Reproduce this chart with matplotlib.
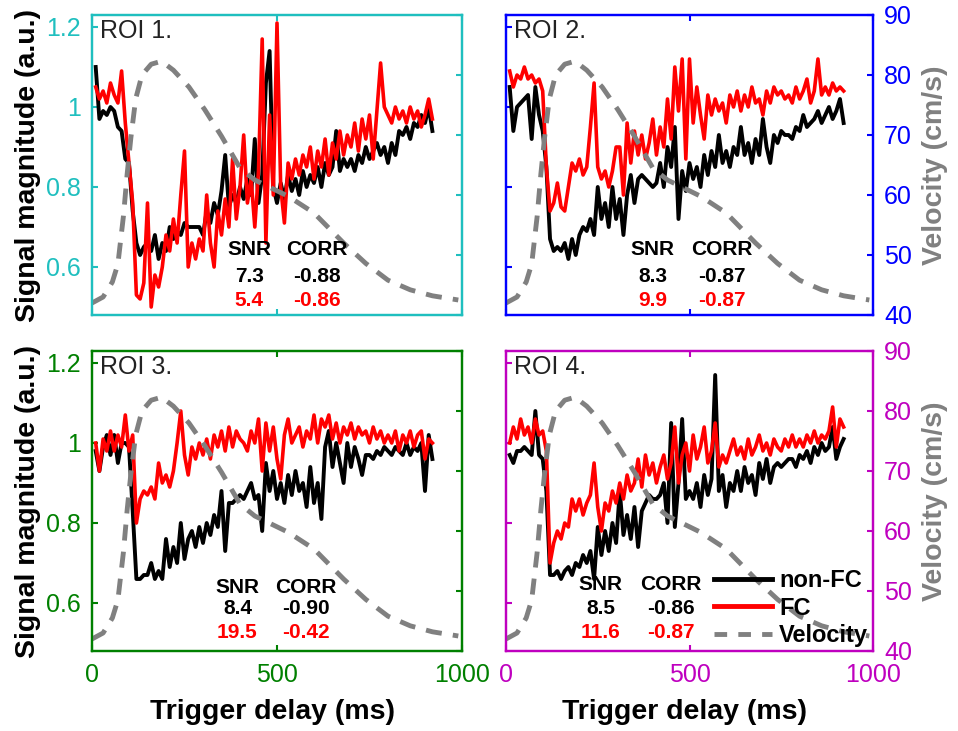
import numpy as np
import matplotlib
matplotlib.use('Agg')
import matplotlib.pyplot as plt
from matplotlib.lines import Line2D

plt.rcParams['font.family'] = ['Liberation Sans', 'DejaVu Sans']

# trigger delay grid (ms)
delay = np.arange(10, 930, 10)

# velocity curve (cm/s)
vel_t = [0, 30, 55, 70, 85, 95, 105, 118, 135, 160, 188, 220, 262, 305, 350,
         400, 440, 480, 530, 600, 680, 740, 800, 860, 920, 990]
vel_v = [42.0, 43.0, 45.5, 48.5, 56.5, 63.5, 69.5, 76.0, 80.0, 81.8, 82.3, 80.8, 78.0, 74.2, 69.8,
         64.5, 62.5, 61.3, 59.8, 57.0, 52.0, 48.6, 45.8, 44.2, 43.2, 42.5]

roi1_nonfc = [1.10, 0.97, 0.99, 0.98, 1.00, 0.99, 0.95, 0.94, 0.87, 0.86,
              0.74, 0.66, 0.63, 0.65, 0.66, 0.64, 0.68, 0.62, 0.66, 0.64,
              0.70, 0.67, 0.69, 0.68, 0.71, 0.70, 0.70, 0.70, 0.70, 0.68,
              0.74, 0.71, 0.76, 0.73, 0.79, 0.88, 0.75, 0.78, 0.76, 0.80,
              0.77, 0.82, 0.78, 0.92, 0.76, 0.83, 1.06, 1.14, 0.80, 0.76,
              0.81, 0.77, 0.83, 0.79, 0.82, 0.78, 0.84, 0.80, 0.83, 0.81,
              0.85, 0.80, 0.86, 0.83, 0.85, 0.94, 0.84, 0.87, 0.85, 0.87,
              0.84, 0.88, 0.86, 0.90, 0.87, 0.89, 0.91, 0.88, 0.90, 0.86,
              0.91, 0.88, 0.94, 0.93, 0.95, 0.92, 0.96, 0.95, 0.98, 0.96,
              1.00, 0.94]
roi1_fc = [1.05, 1.02, 1.04, 1.01, 1.06, 1.03, 1.01, 1.09, 0.96, 0.86,
           0.76, 0.53, 0.52, 0.56, 0.76, 0.50, 0.58, 0.55, 0.60, 0.68,
           0.64, 0.72, 0.66, 0.78, 0.89, 0.60, 0.66, 0.62, 0.67, 0.64,
           0.78, 0.66, 0.60, 0.74, 0.68, 0.77, 0.70, 0.87, 0.72, 0.80,
           0.93, 0.76, 0.82, 0.70, 0.84, 1.17, 0.66, 0.98, 0.78, 1.21,
           0.80, 0.71, 0.86, 0.82, 0.87, 0.83, 0.88, 0.85, 0.90, 0.82,
           0.89, 0.85, 0.92, 0.83, 0.91, 0.87, 0.94, 0.88, 0.93, 0.90,
           0.96, 0.89, 0.97, 0.92, 0.98, 0.87, 0.99, 1.11, 1.00, 0.98,
           0.96, 1.00, 0.97, 0.99, 0.96, 1.00, 0.97, 0.99, 0.95, 0.98,
           1.02, 0.97]

roi2_nonfc = [1.05, 0.94, 1.00, 1.01, 1.02, 1.03, 0.92, 1.05, 0.98, 0.94,
              0.85, 0.67, 0.64, 0.65, 0.64, 0.66, 0.62, 0.67, 0.63, 0.68,
              0.70, 0.69, 0.72, 0.68, 0.80, 0.72, 0.76, 0.70, 0.80, 0.72,
              0.77, 0.68, 0.78, 0.83, 0.76, 0.82, 0.83, 0.82, 0.81, 0.80,
              0.81, 0.86, 0.80, 0.90, 0.85, 0.95, 0.72, 0.84, 0.79, 0.86,
              0.82, 0.85, 0.80, 0.88, 0.83, 0.89, 0.85, 0.93, 0.86, 0.89,
              0.85, 0.90, 0.88, 0.95, 0.88, 0.91, 0.86, 0.92, 0.88, 0.97,
              0.90, 0.86, 0.93, 0.91, 0.94, 0.93, 0.93, 0.92, 0.95, 0.94,
              0.98, 0.95, 0.96, 0.97, 0.99, 0.96, 0.98, 1.00, 0.97, 0.99,
              1.02, 0.96]
roi2_fc = [1.09, 1.05, 1.08, 1.07, 1.10, 1.07, 1.08, 1.06, 1.07, 1.04,
           0.85, 0.74, 0.76, 0.81, 0.75, 0.74, 0.80, 0.86, 0.84, 0.87,
           0.83, 0.85, 0.95, 1.06, 0.85, 0.82, 0.84, 0.80, 0.84, 0.90,
           0.90, 0.78, 0.96, 0.86, 0.94, 0.88, 0.93, 0.87, 0.91, 0.97,
           0.88, 0.95, 0.90, 1.02, 0.92, 1.10, 0.99, 1.12, 0.87, 1.12,
           0.96, 1.05, 0.98, 0.92, 1.03, 0.98, 1.02, 0.99, 1.01, 0.96,
           1.03, 1.00, 1.04, 0.99, 1.03, 1.00, 1.05, 1.01, 1.02, 0.98,
           1.04, 1.01, 1.05, 1.03, 1.04, 1.02, 1.03, 1.01, 1.05, 1.02,
           1.04, 1.07, 1.01, 1.04, 1.12, 1.03, 1.05, 1.03, 1.06, 1.04,
           1.05, 1.04]

roi3_nonfc = [0.98, 0.93, 0.99, 1.02, 0.97, 1.02, 0.95, 1.00, 1.00, 0.99,
              0.83, 0.66, 0.66, 0.67, 0.67, 0.70, 0.66, 0.68, 0.66, 0.76,
              0.69, 0.74, 0.70, 0.80, 0.71, 0.76, 0.78, 0.74, 0.79, 0.75,
              0.80, 0.77, 0.82, 0.79, 0.88, 0.73, 0.85, 0.85, 0.86, 0.87,
              0.86, 0.88, 0.90, 0.86, 0.87, 0.78, 0.95, 0.88, 0.93, 0.86,
              0.90, 0.85, 0.92, 0.87, 0.93, 0.88, 0.90, 0.84, 0.94, 0.85,
              0.90, 0.81, 0.99, 1.03, 0.94, 1.00, 0.95, 0.90, 1.00, 0.94,
              0.99, 0.96, 0.92, 0.97, 0.97, 0.96, 0.98, 0.97, 0.99, 0.98,
              0.97, 0.99, 0.98, 0.97, 1.00, 0.97, 0.99, 0.98, 1.00, 0.88,
              1.02, 0.96]
roi3_fc = [1.00, 0.93, 1.01, 0.98, 1.03, 0.98, 1.02, 0.99, 1.07, 0.98,
           1.02, 0.80, 0.86, 0.88, 0.87, 0.89, 0.86, 0.95, 0.90, 0.92,
           0.89, 0.93, 1.00, 1.08, 0.97, 0.92, 0.99, 0.96, 1.00, 0.97,
           1.01, 0.96, 1.02, 0.99, 1.03, 0.98, 1.04, 0.99, 1.03, 1.01,
           1.00, 0.98, 1.03, 1.00, 1.06, 0.93, 1.05, 0.98, 1.04, 0.96,
           0.91, 1.02, 1.06, 1.00, 1.02, 1.04, 0.99, 1.03, 1.01, 1.07,
           1.00, 1.06, 1.04, 1.07, 1.01, 1.05, 1.00, 1.04, 1.02, 1.05,
           1.01, 1.04, 1.02, 1.03, 1.00, 1.04, 1.01, 1.03, 1.00, 1.02,
           1.00, 1.03, 0.98, 1.02, 1.00, 1.03, 0.99, 1.02, 1.03, 0.96,
           1.01, 1.00]

roi4_nonfc = [0.97, 0.95, 0.98, 0.98, 0.99, 0.98, 0.97, 1.08, 0.97, 0.96,
              0.88, 0.67, 0.67, 0.68, 0.66, 0.68, 0.69, 0.67, 0.70, 0.69,
              0.72, 0.70, 0.73, 0.66, 0.79, 0.72, 0.78, 0.73, 0.80, 0.75,
              0.88, 0.77, 0.82, 0.76, 0.84, 0.74, 0.83, 0.85, 0.87, 0.86,
              0.86, 0.87, 0.90, 0.80, 1.05, 0.79, 0.90, 1.06, 0.86, 0.88,
              0.86, 0.90, 0.84, 0.92, 0.87, 0.91, 1.17, 0.88, 0.92, 0.84,
              0.90, 0.88, 0.93, 0.88, 0.94, 0.90, 0.92, 0.87, 0.95, 0.91,
              0.96, 0.90, 0.94, 0.95, 0.94, 0.95, 0.96, 0.96, 0.94, 0.97,
              0.96, 0.98, 0.95, 0.99, 0.97, 1.00, 0.98, 0.99, 1.04, 0.96,
              0.99, 1.01]
roi4_fc = [1.00, 1.04, 1.01, 1.06, 1.02, 1.04, 1.00, 1.06, 1.02, 1.03,
           0.98, 0.70, 0.75, 0.78, 0.76, 0.80, 0.79, 0.86, 0.83, 0.86,
           0.82, 0.85, 0.87, 0.95, 0.84, 0.78, 0.85, 0.83, 0.88, 0.85,
           0.90, 0.86, 0.92, 0.88, 0.90, 0.96, 0.89, 0.97, 0.92, 0.95,
           0.90, 0.94, 0.97, 0.91, 0.95, 1.04, 0.90, 0.97, 1.00, 0.93,
           1.02, 0.96, 0.99, 1.04, 0.95, 0.98, 1.05, 0.94, 0.97, 0.95,
           0.98, 1.01, 0.97, 0.99, 0.96, 1.01, 0.97, 0.99, 1.02, 0.98,
           1.00, 0.97, 1.01, 0.99, 0.98, 1.01, 0.99, 1.02, 0.99, 1.01,
           0.99, 1.02, 1.00, 1.03, 1.00, 1.02, 1.01, 1.03, 1.09, 0.99,
           1.06, 1.04]

roi_names = ['ROI 1.', 'ROI 2.', 'ROI 3.', 'ROI 4.']
snr_nonfc = ['7.3', '8.3', '8.4', '8.5']
snr_fc = ['5.4', '9.9', '19.5', '11.6']
corr_nonfc = ['-0.88', '-0.87', '-0.90', '-0.86']
corr_fc = ['-0.86', '-0.87', '-0.42', '-0.87']

panel_colors = ['#1fbfbf', '#0000ff', '#008000', '#bf00bf']
gray = '#808080'
vel_dash = (3.3, 2.3)

W, H = 958, 731
fig = plt.figure(figsize=(W / 100, H / 100), dpi=100)

# axes boxes in pixels: left, top, right, bottom
boxes = [(92, 15, 462, 315), (506, 15, 873, 315),
         (92, 351, 462, 651), (506, 351, 873, 651)]
# text anchor (axes fraction) for SNR / CORR columns and rows
snr_x = [0.425, 0.40, 0.393, 0.258]
corr_x = [0.607, 0.588, 0.578, 0.45]
rows_y = [(0.217, 0.127, 0.05), (0.217, 0.127, 0.05),
          (0.213, 0.143, 0.06), (0.22, 0.143, 0.06)]

signals = [(roi1_nonfc, roi1_fc), (roi2_nonfc, roi2_fc),
           (roi3_nonfc, roi3_fc), (roi4_nonfc, roi4_fc)]


def drawPanel(i):
    l, t, r, b = boxes[i]
    ax = fig.add_axes([l / W, 1 - b / H, (r - l) / W, (b - t) / H])
    col = panel_colors[i]
    nonfc, fc = signals[i]

    ax.plot(delay, nonfc, color='black', lw=2.8, zorder=2)
    ax.plot(delay, fc, color='red', lw=2.6, zorder=3)
    ax.set_xlim(0, 1000)
    ax.set_ylim(0.48, 1.23)
    ax.set_xticks([0, 500, 1000])
    ax.set_yticks([0.6, 0.8, 1.0, 1.2])
    ax.set_yticklabels(['0.6', '0.8', '1', '1.2'])

    axv = ax.twinx()
    axv.plot(vel_t, vel_v, color=gray, lw=3.5, dashes=vel_dash)
    axv.set_ylim(40, 90)
    axv.set_yticks([40, 50, 60, 70, 80, 90])

    is_left = i in (0, 2)
    is_bottom = i in (2, 3)
    ax.tick_params(axis='both', direction='in', length=4, width=1.5, colors=col,
                   labelsize=18, pad=8, top=True, labelbottom=is_bottom,
                   labelleft=is_left)
    ax.tick_params(axis='x', pad=9)
    axv.tick_params(axis='y', direction='in', length=4, width=1.5, colors=col,
                    labelsize=18, pad=8, labelright=not is_left)
    for a in (ax, axv):
        for s in a.spines.values():
            s.set_color(col)
            s.set_linewidth(1.6)

    ax.text(0.022, 0.988, roi_names[i], transform=ax.transAxes, fontsize=18,
            va='top', ha='left', color='#222222')

    y0, y1, y2 = rows_y[i]
    for x, txt1, txt2, txt3 in ((snr_x[i], 'SNR', snr_nonfc[i], snr_fc[i]),
                                (corr_x[i], 'CORR', corr_nonfc[i], corr_fc[i])):
        axv.text(x, y0, txt1, transform=ax.transAxes, ha='center', va='center',
                 fontsize=15, fontweight='bold', color='black')
        axv.text(x, y1, txt2, transform=ax.transAxes, ha='center', va='center',
                 fontsize=15, fontweight='bold', color='black')
        axv.text(x, y2, txt3, transform=ax.transAxes, ha='center', va='center',
                 fontsize=15, fontweight='bold', color='red')

    if i == 3:
        handles = [Line2D([], [], color='black', lw=3.5),
                   Line2D([], [], color='red', lw=3.5),
                   Line2D([], [], color=gray, lw=3.5, dashes=(2.6, 2.3))]
        axv.legend(handles, ['non-FC', 'FC', 'Velocity'], loc='lower right',
                   bbox_to_anchor=(1.025, -0.035), frameon=False,
                   prop={'weight': 'bold', 'size': 17}, handlelength=2.45,
                   handletextpad=0.3, labelspacing=0.2, borderaxespad=0.2)
    return ax


for i in range(4):
    drawPanel(i)

label_font = dict(fontsize=20.5, fontweight='bold')
for yc in (165, 501):
    fig.text(28 / W, 1 - yc / H, 'Signal magnitude (a.u.)', rotation=90,
             ha='center', va='center', color='black', **label_font)
    fig.text(935 / W, 1 - yc / H, 'Velocity (cm/s)', rotation=90,
             ha='center', va='center', color=gray, **label_font)
for xc in (273, 685):
    fig.text(xc / W, 1 - 712 / H, 'Trigger delay (ms)', ha='center', va='center',
             color='black', **label_font)

fig.savefig('out.png', dpi=100)
